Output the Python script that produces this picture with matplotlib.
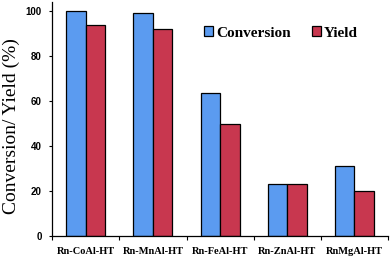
import numpy as np
import matplotlib
matplotlib.use("Agg")
import matplotlib.pyplot as plt
from matplotlib.ticker import FixedLocator

# ---- data ----
catalysts  = ["Rn-CoAl-HT", "Rn-MnAl-HT", "Rn-FeAl-HT", "Rn-ZnAl-HT", "RnMgAl-HT"]
conversion = [100, 99, 63.5, 23, 31]
yield_pct  = [94, 92, 50, 23, 20]

BLUE = "#5b9bf0"
RED  = "#c8374f"

plt.rcParams["font.family"] = ["Liberation Serif", "DejaVu Serif"]

fig = plt.figure(figsize=(3.92, 2.61), dpi=100)
ax = fig.add_axes([0.133, 0.096, 0.857, 0.896])

x = np.arange(len(catalysts))
w = 0.29
ax.bar(x - w/2, conversion, w, color=BLUE, edgecolor="black", lw=0.9, label="Conversion")
ax.bar(x + w/2, yield_pct, w, color=RED, edgecolor="black", lw=0.9, label="Yield")

ax.set_xlim(-0.5, len(catalysts) - 0.5)
ax.set_ylim(0, 104)
ax.set_yticks([0, 20, 40, 60, 80, 100])
ax.set_xticks(x)
ax.set_xticklabels(catalysts, fontsize=7.5, fontweight="bold")
ax.tick_params(axis="x", which="major", length=0, pad=8)
ax.xaxis.set_minor_locator(FixedLocator(np.arange(-0.5, len(catalysts), 1.0)))
ax.tick_params(axis="x", which="minor", length=3, width=0.8, direction="out")
ax.tick_params(axis="y", length=2.5, width=0.8, labelsize=7, pad=5)
for lab in ax.get_yticklabels():
    lab.set_fontweight("bold")
    lab.set_family("Liberation Sans")

for side in ["top", "right"]:
    ax.spines[side].set_visible(False)
for side in ["left", "bottom"]:
    ax.spines[side].set_linewidth(0.9)

ax.set_ylabel("Conversion/ Yield (%)", fontsize=14)
ax.yaxis.set_label_coords(-0.095, 0.47)

ax.legend(loc="upper left", bbox_to_anchor=(0.41, 0.955), ncol=2, frameon=False,
          prop={"size": 11, "weight": "bold"}, handlelength=0.6, handleheight=0.6,
          handletextpad=0.2, columnspacing=1.4)

fig.savefig("out.png", dpi=100)
